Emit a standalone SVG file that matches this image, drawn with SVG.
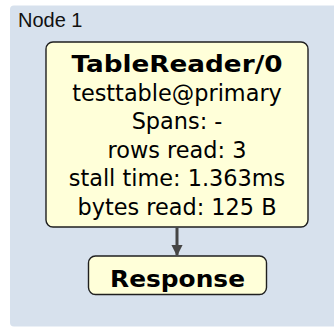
<svg xmlns="http://www.w3.org/2000/svg" width="334" height="327" viewBox="0 0 334 327">
  <defs>
    <style>
      .cluster { fill: #d7e1ed; }
      .node rect { fill: #ffffd9; stroke: #1f1f1f; stroke-width: 1.4; }
      .label { font-family: "DejaVu Sans", Verdana, sans-serif; font-size: 22.4px; fill: #000; text-anchor: middle; }
      .title { font-weight: bold; font-size: 23px; }
      .cluster-label { font-family: "Liberation Sans", Arial, sans-serif; font-size: 20px; fill: #111; }
      .edge { stroke: #454545; stroke-width: 3; fill: none; }
    </style>
    <marker id="arrow" viewBox="0 0 10 10" refX="9" refY="5" markerWidth="3.8" markerHeight="3.8" markerUnits="strokeWidth" orient="auto">
      <path d="M0,0 L10,5 L0,10 z" fill="#454545"/>
    </marker>
  </defs>

  <!-- cluster: Node 1 -->
  <g id="cluster-node1">
    <rect class="cluster" x="10" y="5.5" width="330" height="321" rx="4"/>
    <text class="cluster-label" x="18" y="27">Node 1</text>
  </g>

  <!-- processor node -->
  <g id="tablereader" class="node">
    <rect x="46" y="42" width="262" height="185" rx="7"/>
    <text class="label title" x="177" y="72" textLength="211" lengthAdjust="spacingAndGlyphs">TableReader/0</text>
    <text class="label" x="177" y="100.5">testtable@primary</text>
    <text class="label" x="177" y="129">Spans: -</text>
    <text class="label" x="177" y="157.5">rows read: 3</text>
    <text class="label" x="177" y="186">stall time: 1.363ms</text>
    <text class="label" x="177" y="214.5">bytes read: 125 B</text>
  </g>

  <!-- output node -->
  <g id="response" class="node">
    <rect x="88.5" y="256" width="178" height="38.5" rx="7"/>
    <text class="label title" x="177.5" y="286.5" textLength="135" lengthAdjust="spacingAndGlyphs">Response</text>
  </g>

  <!-- connectors -->
  <g id="edges">
    <line class="edge" x1="177" y1="227.5" x2="177" y2="255" marker-end="url(#arrow)"/>
  </g>
</svg>
